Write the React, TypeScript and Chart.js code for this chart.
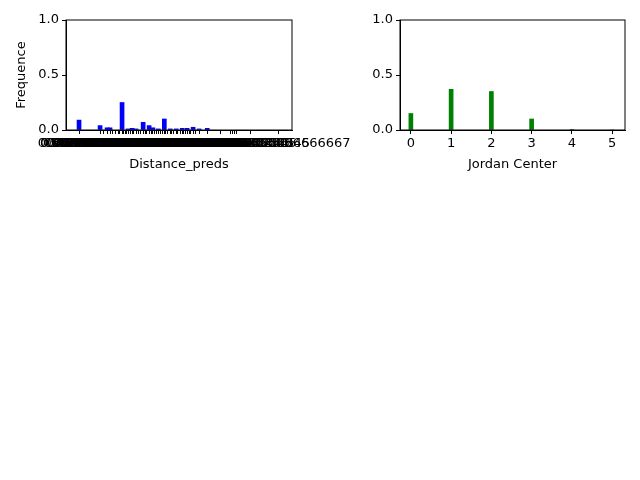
import {useEffect, useRef} from "react";
import {Chart} from "chart.js/auto";

const distX = [0, 0.387, 0.516, 0.571, 0.792, 0.903, 0.977, 1.05, 1.18, 1.29, 1.36, 1.46, 1.57, 1.68, 1.79, 1.9, 1.99, 2.1, 2.21, 2.36]
const distY = [0.09, 0.04, 0.02, 0.02, 0.25, 0.01, 0.015, 0.01, 0.07, 0.04, 0.02, 0.01, 0.1, 0.01, 0.01, 0.015, 0.015, 0.025, 0.01, 0.015]
const extraTicks = [0.45, 0.62, 0.68, 0.72, 0.75, 0.82, 0.85, 0.87, 0.95, 1.01, 1.1, 1.14, 1.22, 1.25, 1.33, 1.39, 1.42, 1.5, 1.53, 1.6, 1.63, 1.71, 1.74, 1.82, 1.86, 1.93, 1.96, 2.03, 2.06, 2.14, 2.6, 2.78, 2.82, 2.86, 2.9, 3.15, 3.6666667]
const jordanX = [0, 1, 2, 3, 4, 5]
const jordanY = [0.15, 0.37, 0.35, 0.1, 0.005, 0]

const font = {family: "DejaVu Sans", size: 13}

const frame = {
  id: "frame",
  afterDraw(c: Chart) {
    const a = c.chartArea, ctx = c.ctx
    ctx.save()
    ctx.strokeStyle = "black"
    ctx.lineWidth = 1
    ctx.strokeRect(a.left, a.top, a.right - a.left, a.bottom - a.top)
    ctx.restore()
  }
}

function make(canvas: HTMLCanvasElement, opts: any): Chart {
  return new Chart(canvas, {
    type: "bar",
    plugins: [frame],
    data: {
      datasets: [{
        data: opts.xs.map((x: number, i: number) => ({x, y: opts.ys[i]})),
        backgroundColor: opts.color,
        barThickness: 4,
      }]
    },
    options: {
      animation: false,
      responsive: false,
      layout: {padding: {top: 20, right: opts.padRight, left: opts.padLeft, bottom: 0}},
      plugins: {legend: {display: false}, tooltip: {enabled: false}},
      scales: {
        x: {
          type: "linear",
          offset: false,
          min: opts.xmin, max: opts.xmax,
          title: {display: true, text: opts.xtitle, color: "black", font, padding: {top: 2}},
          grid: {drawOnChartArea: false, tickLength: 4, color: "black", offset: false},
          border: {color: "black"},
          afterBuildTicks: (s: any) => { s.ticks = opts.ticks.map((v: number) => ({value: v})) },
          afterFit: (s: any) => { s.height = 46 },
          ticks: {
            color: "black", font, autoSkip: false, maxRotation: 0, minRotation: 0, padding: 2,
            callback: (v: any) => opts.fmt(Number(v)),
          },
        },
        y: {
          min: 0, max: 1,
          title: {display: !!opts.ytitle, text: opts.ytitle, color: "black", font},
          grid: {drawOnChartArea: false, tickLength: 4, color: "black"},
          border: {color: "black"},
          afterFit: (s: any) => { s.width = opts.yWidth },
          ticks: {color: "black", font, stepSize: 0.5, callback: (v: any) => Number(v).toFixed(1)},
        },
      },
    },
  } as any)
}

export default () => {
  const left = useRef<HTMLCanvasElement>(null)
  const right = useRef<HTMLCanvasElement>(null)

  useEffect(() => {
    const a = make(left.current!, {
      xs: distX, ys: distY, color: "blue", xmin: -0.24, xmax: 3.92, xtitle: "Distance_preds",
      ytitle: "Frequence", yWidth: 56, padLeft: 10, padRight: 348,
      ticks: [...distX, ...extraTicks].sort((p, q) => p - q),
      fmt: (v: number) => v === 0 ? "0.0" : String(v === 3.6666667 ? "3.6666666666666667" : v + 0.0000000012345),
    })
    const b = make(right.current!, {
      xs: jordanX, ys: jordanY, color: "green", xmin: -0.27, xmax: 5.32, xtitle: "Jordan Center",
      ytitle: "", yWidth: 80, padLeft: 0, padRight: 15,
      ticks: jordanX, fmt: (v: number) => String(v),
    })
    return () => { a.destroy(); b.destroy() }
  }, [])

  return (
    <div style={{position: "absolute", left: 0, top: 0, width: 640, height: 480, background: "white"}}>
      <canvas ref={left} width={640} height={176} style={{position: "absolute", left: 0, top: 0}}/>
      <canvas ref={right} width={320} height={176} style={{position: "absolute", left: 320, top: 0}}/>
    </div>
  )
}
